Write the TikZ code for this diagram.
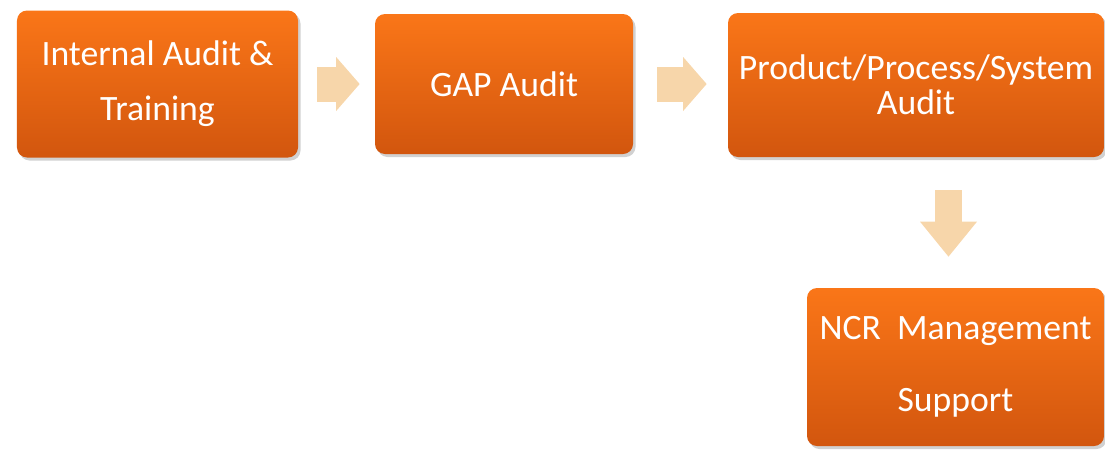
\documentclass[tikz,border=0pt]{standalone}
\usepackage{fontspec}
\setmainfont{Carlito}
\usetikzlibrary{arrows.meta,shadows}
\definecolor{ortop}{RGB}{250,118,24}
\definecolor{orbot}{RGB}{210,86,14}
\definecolor{peach}{RGB}{247,214,170}
\tikzset{
  stage/.style={rounded corners=0.2cm, top color=ortop, bottom color=orbot,
    draw=none, text=white, align=center, inner sep=0pt,
    font=\fontsize{20.3}{24}\selectfont,
    drop shadow={shadow xshift=0.05cm, shadow yshift=-0.06cm, opacity=0.3, fill=black!60}},
  flow/.style={draw=peach, line width=0.7cm,
    -{Triangle[length=0.47cm, width=1.08cm, line width=0pt]}},
}
\begin{document}
\begin{tikzpicture}
      \useasboundingbox (0,0) rectangle (22.1,-9);
      \draw (3.15,-1.68) node[stage, minimum width=5.62cm, minimum height=2.94cm] (00) {Internal Audit \&\\[7.3pt]Training};
      \draw (10.08,-1.68) node[stage, minimum width=5.16cm, minimum height=2.8cm] (10) {GAP Audit};
      \draw (18.32,-1.70) node[stage, minimum width=7.52cm, minimum height=2.88cm] (20) {Product/Process/System\\[-4.1pt]Audit};
      \draw (19.11,-7.34) node[stage, minimum width=5.94cm, minimum height=3.16cm] (21) {NCR~ Management\\[17pt]Support};
      \draw[flow, shorten <=0.38cm, shorten >=0.3cm] (00) -- (10);
      \draw[flow, shorten <=0.48cm, shorten >=0.42cm] (10.east) -- (10.east -| 20.west);
      \draw[flow, line width=0.54cm, -{Triangle[length=0.7cm, width=1.14cm, line width=0pt]},
        shorten <=0.66cm, shorten >=0.62cm] ([xshift=-0.14cm]20.south -| 21.north) -- ([xshift=-0.14cm]21.north);
    \end{tikzpicture}
\end{document}
